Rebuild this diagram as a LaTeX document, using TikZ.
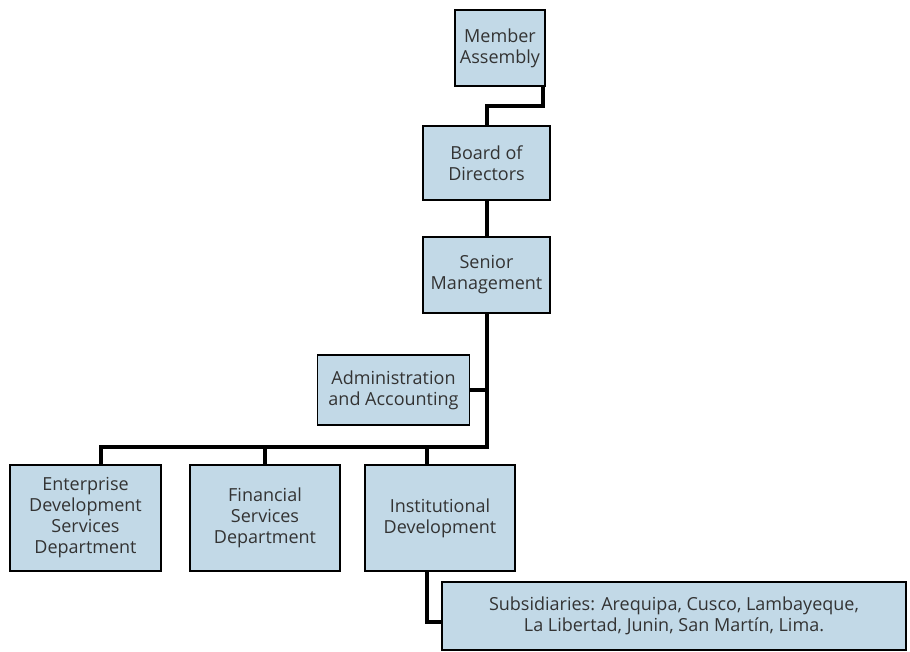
\documentclass[tikz,border=0pt]{standalone}
\usepackage{fontspec}
\setmainfont{Open Sans}
\usetikzlibrary{positioning}
\definecolor{orgBlue}{HTML}{C2D9E7}
\definecolor{orgText}{HTML}{333333}

\begin{document}
\begin{tikzpicture}[
    x=1pt, y=-1pt,
    unit/.style={rectangle, draw=black, line width=1.4pt, fill=orgBlue,
                 font=\fontsize{18}{21}\selectfont\color{orgText}, align=center,
                 inner sep=2pt},
    conn/.style={draw=black, line width=4pt},
  ]
    \useasboundingbox (0,0) rectangle (910,652);

    \node[unit, minimum width=90pt, minimum height=76pt] (ma) at (500,48) {Member\\Assembly};
    \node[unit, minimum width=127pt, minimum height=74pt] (bod) at (486.5,163) {Board of\\Directors};
    \node[unit, minimum width=127pt, minimum height=76pt] (sm) at (486.5,275) {Senior\\Management};
    \node[unit, minimum width=152pt, minimum height=70pt] (adm) at (393.5,390) {Administration\\and Accounting};

    \node[unit, minimum width=151pt, minimum height=106pt] (edsd) at (85.5,518) {Enterprise\\Development\\Services\\Department};
    \node[unit, minimum width=150pt, minimum height=106pt] (fsd) at (265,518) {Financial\\Services\\Department};
    \node[unit, minimum width=150pt, minimum height=106pt] (ind) at (440,518) {Institutional\\Development};
    \node[unit, minimum width=464pt, minimum height=68pt] (sub) at (674,616)
      {Subsidiaries: Arequipa, Cusco, Lambayeque,\\La Libertad, Junin, San Martín, Lima.};

    \coordinate (bus) at (486.5,447);
    \coordinate (edsdtop) at ([xshift=15pt]edsd.north);
    \coordinate (indtop) at ([xshift=-13pt]ind.north);

    % links
    \draw[conn] ([xshift=-3pt]ma.south east) |- ([yshift=19pt]bod.north) -- (bod.north);
    \draw[conn] (bod) -- (sm);
    \draw[conn] (sm.south) -- (bus) -- (bus -| edsdtop) -- (edsdtop);
    \draw[conn] (adm.east) -- (adm.east -| bus);
    \draw[conn] (bus -| fsd.north) -- (fsd.north);
    \draw[conn] (bus -| indtop) -- (indtop);
    \draw[conn] ([xshift=-13pt]ind.south) |- ([yshift=-6pt]sub.west);
  \end{tikzpicture}
\end{document}
